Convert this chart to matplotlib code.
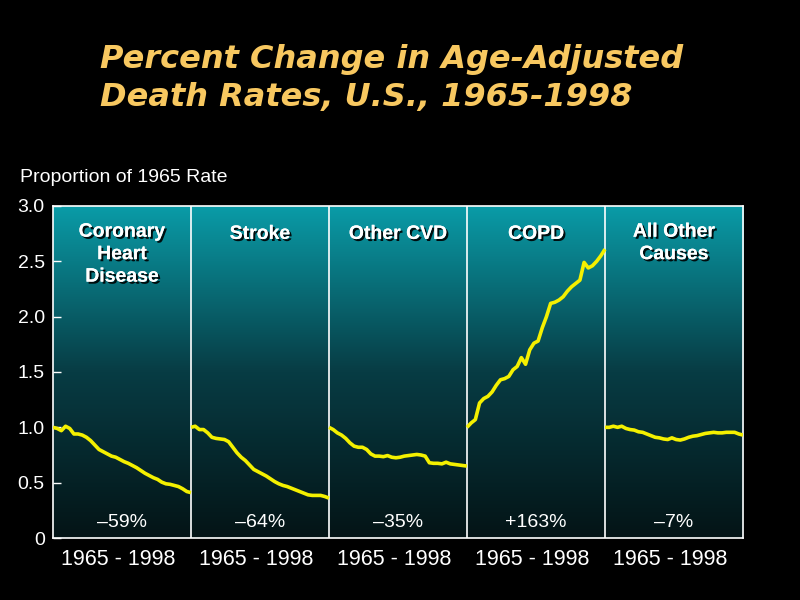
import numpy as np
import matplotlib
matplotlib.use("Agg")
import matplotlib.pyplot as plt
import matplotlib.patheffects as pe
from matplotlib.colors import LinearSegmentedColormap

years = list(range(1965, 1999))
panels = ["Coronary\nHeart\nDisease", "Stroke", "Other CVD", "COPD", "All Other\nCauses"]
pct_labels = ["\u201359%", "\u201364%", "\u201335%", "+163%", "\u20137%"]
period_label = "1965 - 1998"

chd = [1.00, 0.99, 0.97, 1.01, 0.99, 0.94, 0.94, 0.93, 0.91, 0.88, 0.84, 0.80,
       0.78, 0.76, 0.74, 0.73, 0.71, 0.69, 0.675, 0.655, 0.635, 0.61, 0.585,
       0.565, 0.545, 0.53, 0.505, 0.49, 0.485, 0.475, 0.465, 0.445, 0.42, 0.41]
stroke = [1.00, 1.01, 0.98, 0.98, 0.95, 0.91, 0.90, 0.895, 0.89, 0.87, 0.82,
          0.77, 0.73, 0.70, 0.66, 0.62, 0.60, 0.58, 0.56, 0.535, 0.51, 0.49,
          0.475, 0.465, 0.45, 0.435, 0.42, 0.405, 0.39, 0.385, 0.385, 0.385,
          0.375, 0.36]
other_cvd = [1.00, 0.98, 0.95, 0.93, 0.90, 0.86, 0.83, 0.82, 0.82, 0.80, 0.76,
             0.74, 0.74, 0.735, 0.745, 0.73, 0.725, 0.73, 0.74, 0.745, 0.75,
             0.755, 0.75, 0.74, 0.68, 0.675, 0.675, 0.67, 0.685, 0.67, 0.665,
             0.66, 0.655, 0.65]
copd = [1.00, 1.04, 1.07, 1.22, 1.26, 1.28, 1.32, 1.38, 1.43, 1.44, 1.46, 1.52,
        1.55, 1.63, 1.57, 1.70, 1.76, 1.78, 1.90, 2.00, 2.12, 2.13, 2.15, 2.18,
        2.23, 2.27, 2.30, 2.33, 2.49, 2.44, 2.46, 2.50, 2.55, 2.61]
all_other = [1.00, 1.00, 1.01, 1.00, 1.01, 0.99, 0.98, 0.975, 0.96, 0.955, 0.94,
             0.925, 0.91, 0.905, 0.895, 0.89, 0.905, 0.89, 0.885, 0.895, 0.91,
             0.92, 0.925, 0.935, 0.945, 0.95, 0.955, 0.95, 0.95, 0.955, 0.955,
             0.955, 0.94, 0.93]
series = [chd, stroke, other_cvd, copd, all_other]
yticks = [0, 0.5, 1.0, 1.5, 2.0, 2.5, 3.0]
ytick_labels = ["0", "0.5", "1.0", "1.5", "2.0", "2.5", "3.0"]

fig = plt.figure(figsize=(8, 6), dpi=100, facecolor="black")
ax = fig.add_axes([0.06625, 0.1033, 0.8625, 0.5534])
ax.set_facecolor("black")
n = len(panels)
ax.set_xlim(0, n)
ax.set_ylim(0, 3.0)

cmap = LinearSegmentedColormap.from_list("bg", ["#041416", "#073c44", "#0a9ca8"])
grad = np.linspace(0, 1, 256).reshape(-1, 1)
ax.imshow(grad, cmap=cmap, aspect="auto", extent=[0, n, 0, 3.0],
          origin="lower", zorder=0)

shadow = [pe.withSimplePatchShadow(offset=(1.5, -1.5), shadow_rgbFace="black", alpha=0.9), pe.Normal()]
span = years[-1] - years[0]
for i, (name, vals, pl) in enumerate(zip(panels, series, pct_labels)):
    xs = [i + (y - years[0]) / span for y in years]
    ax.plot(xs, vals, color="#f4f000", lw=2.6, zorder=3, solid_capstyle="butt")
    if i > 0:
        ax.axvline(i, color="white", lw=1.2, zorder=2)
    ax.text(i + 0.5, 2.84 if "\n" in name else 2.82, name, ha="center", va="top",
            color="white", fontsize=14, fontweight="bold", family="Liberation Sans",
            linespacing=1.42, path_effects=shadow, zorder=4)
    ax.text(i + 0.5, 0.14, pl, ha="center", va="center", color="white",
            fontsize=14, family="Liberation Sans", zorder=4)
    ax.text(i + 0.47, -0.19, period_label, ha="center", va="center", color="white",
            fontsize=15.5, family="Liberation Sans", zorder=4)

ax.set_xticks([])
ax.set_yticks(yticks)
ax.set_yticklabels(ytick_labels, family="Liberation Sans", fontsize=14, color="white")
ax.tick_params(axis="y", direction="in", length=6, color="white", width=1, pad=6)
for s in ["left", "bottom", "top", "right"]:
    ax.spines[s].set_color("white")
    ax.spines[s].set_linewidth(1.2)

fig.text(0.025, 0.705, "Proportion of 1965 Rate", color="white", fontsize=14,
         family="Liberation Sans", ha="left", va="center")
fig.text(0.125, 0.869, "Percent Change in Age-Adjusted\nDeath Rates, U.S., 1965-1998",
         color="#f8c860", fontsize=23, style="italic", fontweight="bold",
         family="DejaVu Sans", ha="left", va="center", linespacing=1.26)

fig.savefig("out.png", dpi=100, facecolor="black")
